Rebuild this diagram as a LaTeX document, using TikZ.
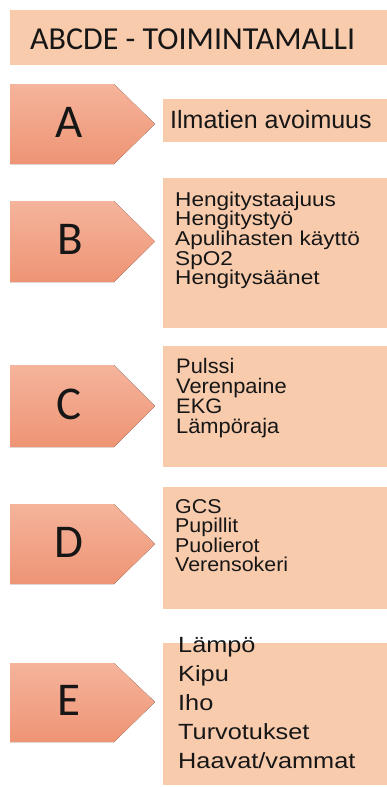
\documentclass[tikz,border=0pt]{standalone}
\usepackage{fontspec}
\setmainfont{Liberation Sans}
\newfontfamily\titlefont{Carlito}
\newfontfamily\fA{Liberation Sans}
\newfontfamily\fB[FakeStretch=1.13]{Liberation Sans}
\newfontfamily\fC[FakeStretch=1.04]{Liberation Sans}
\newfontfamily\fD[FakeStretch=1.07]{Liberation Sans}
\newfontfamily\fE[FakeStretch=1.15]{Liberation Sans}
\definecolor{boxfill}{HTML}{F8CBAD}
\definecolor{arrtop}{HTML}{F5B49C}
\definecolor{arrbot}{HTML}{EE9474}
\definecolor{ink}{HTML}{161616}
\tikzset{
  itembox/.style={fill=boxfill, draw=none},
  chevron/.style={top color=arrtop, bottom color=arrbot, draw=none},
  letter/.style={font=\titlefont\fontsize{47}{47}\selectfont, text=ink, inner sep=0pt},
  items/.style={anchor=base west, inner sep=0pt, text=ink},
}
\newcommand{\chev}[3]{% top, bottom, mid
  \fill[chevron] (10,#1) -- (114,#1) -- (155,#3) -- (114,#2) -- (10,#2) -- cycle;}
\begin{document}
\begin{tikzpicture}[x=1pt,y=-1pt]
\useasboundingbox (0,0) rectangle (387,787);
% title
\fill[itembox] (10,10) rectangle (387,65);
\node[anchor=base west, inner sep=0pt, text=ink, font=\titlefont\fontsize{32}{32}\selectfont] (title) at (30,49.5) {ABCDE - TOIMINTAMALLI};
% A
\chev{84}{164}{124}
\node[letter] (la) at (69,122) {A};
\fill[itembox] (163,99) rectangle (387,142);
\node[items, font=\fA\fontsize{25}{25}\selectfont] (ta) at (170,128.5) {Ilmatien avoimuus};
% B
\chev{201}{282}{241.5}
\node[letter] (lb) at (70,239.5) {B};
\fill[itembox] (163,178) rectangle (387,328);
\node[items, font=\fB\fontsize{20}{20}\selectfont] (tb) at (175,206) {\vtop{\baselineskip=19.7pt
  \hbox{Hengitystaajuus}\hbox{Hengitystyö}\hbox{Apulihasten käyttö}\hbox{SpO2}\hbox{Hengitysäänet}}};
% C
\chev{365}{447}{406}
\node[letter] (lc) at (69,404) {C};
\fill[itembox] (163,346) rectangle (387,467);
\node[items, font=\fC\fontsize{21}{21}\selectfont] (tc) at (176,373) {\vtop{\baselineskip=20.3pt
  \hbox{Pulssi}\hbox{Verenpaine}\hbox{EKG}\hbox{Lämpöraja}}};
% D
\chev{504}{584}{544}
\node[letter] (ld) at (69,542) {D};
\fill[itembox] (163,487) rectangle (387,609);
\node[items, font=\fD\fontsize{20}{20}\selectfont] (td) at (175,513) {\vtop{\baselineskip=19.5pt
  \hbox{GCS}\hbox{Pupillit}\hbox{Puolierot}\hbox{Verensokeri}}};
% E
\chev{663}{742}{702}
\node[letter] (le) at (69,700) {E};
\fill[itembox] (163,643) rectangle (387,785);
\node[items, font=\fE\fontsize{22}{22}\selectfont] (te) at (178,652) {\vtop{\baselineskip=29pt
  \hbox{Lämpö}\hbox{Kipu}\hbox{Iho}\hbox{Turvotukset}\hbox{Haavat/vammat}}};
\end{tikzpicture}
\end{document}
